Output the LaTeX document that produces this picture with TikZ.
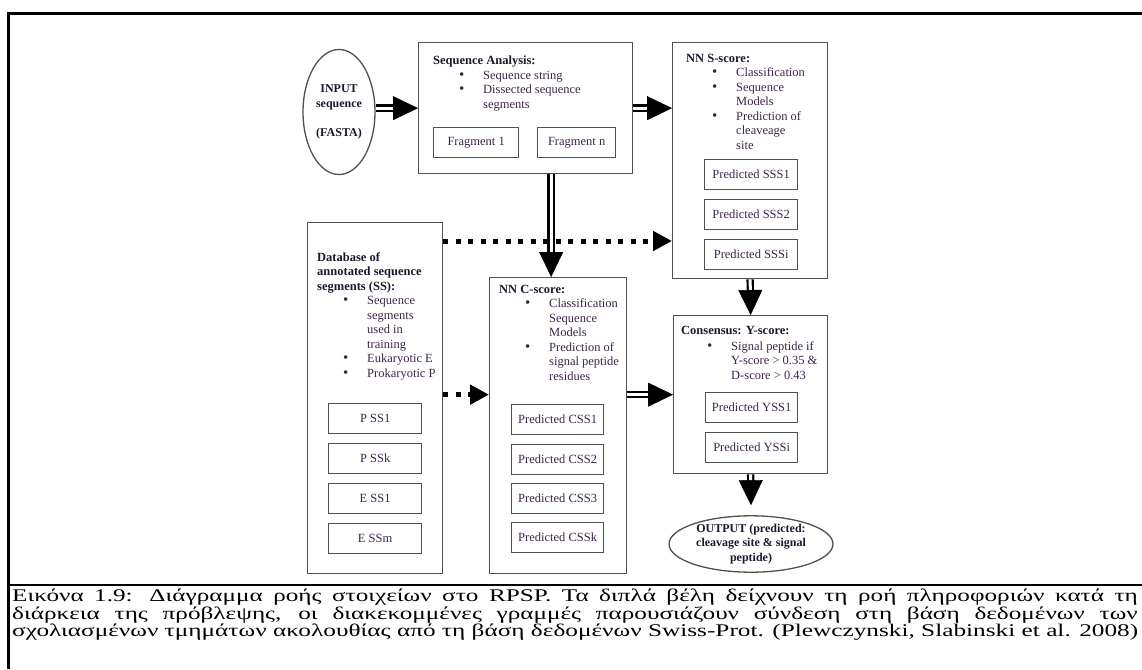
\documentclass[tikz,border=0pt]{standalone}
\usepackage{fontspec}
\setmainfont{Liberation Serif}
\usetikzlibrary{arrows.meta,shapes.geometric,calc}
\definecolor{boxgray}{RGB}{80,80,80}
\definecolor{titlecol}{RGB}{25,25,45}
\definecolor{itemcol}{RGB}{60,35,75}
\def\bul{\hspace*{26pt}\makebox[24pt][l]{\fontsize{15}{14.5}\selectfont\textbullet}}
\def\cont{\hspace*{50pt}}
\def\capline#1{\scalebox{1.2}[0.85]{\makebox[938pt][s]{\fontsize{21}{18}\selectfont #1}}}
\def\caplast#1{\resizebox{1126pt}{0.85\height}{\fontsize{21}{18}\selectfont #1}}
\def\dblarrow(#1)(#2){\draw[dblshaft] (#1) -- (#2); \draw[dblhead] (#1) -- (#2);}

\begin{document}
\begin{tikzpicture}[x=1pt, y=-1pt,
	box/.style={draw=boxgray, line width=1.3pt, anchor=north west, inner sep=0pt},
	inbox/.style={box, minimum height=30, font=\fontsize{12.5}{14.5}\selectfont, text=itemcol},
	lbl/.style={anchor=north west, align=left, inner sep=0pt, font=\fontsize{12.5}{14.5}\selectfont, text=itemcol},
	oval/.style={ellipse, draw=boxgray, line width=1.3pt, inner sep=0pt, align=center, font=\fontsize{12}{14.5}\selectfont\bfseries, text=titlecol},
	dblshaft/.style={draw=black, double=white, double distance=3pt, line width=2.2pt, shorten >=24pt},
	dblhead/.style={draw=white, line width=0.4pt, shorten <=3pt, -{Triangle[length=25pt,width=24pt,color=black]}},
	dotarr/.style={draw=black, line width=5pt, dash pattern=on 5pt off 7.5pt, -{Triangle[length=19pt,width=19pt]}},
	frame/.style={draw=black, line width=2.7pt}]
	%%%%% FRAME %%%%%
	\useasboundingbox (0,0) rectangle (1142,669);
	\draw[frame] (7.5,13.3) -- (1142,13.3);
	\draw[frame] (8.7,12) -- (8.7,669);
	\draw[frame] (7.5,585) -- (1142,585);
	
	%%%%% BOXES %%%%%
	\node[oval, minimum width=72, minimum height=125] (input) at (339,112) {INPUT\\sequence\\[14.5pt](FASTA)};
	
	\node[box, minimum width=214, minimum height=131] (seq) at (418,42) {};
	\node[lbl] (seqtxt) at (433,56) {\textbf{\color{titlecol}Sequence Analysis:}\\
		\bul Sequence string\\
		\bul Dissected sequence\\
		\cont segments};
	\node[inbox, minimum width=85] (frag1) at (433,127) {Fragment 1};
	\node[inbox, minimum width=78] (fragn) at (537,127) {Fragment n};
	
	\node[box, minimum width=155, minimum height=236] (nns) at (672,42) {};
	\node[lbl] (nnstxt) at (686,54) {\textbf{\color{titlecol}NN S-score:}\\
		\bul Classification\\
		\bul Sequence\\
		\cont Models\\
		\bul Prediction of\\
		\cont cleaveage\\
		\cont site};
	\foreach \lab/\yy in {SSS1/159, SSS2/199, SSSi/239}
		\node[inbox, minimum width=93] (pred\lab) at (704,\yy) {Predicted \lab};
	
	\node[box, minimum width=135, minimum height=351] (db) at (307,222) {};
	\node[lbl] (dbtxt) at (317,252) {\textbf{\color{titlecol}Database of}\\
		\textbf{\color{titlecol}annotated sequence}\\
		\textbf{\color{titlecol}segments (SS):}\\
		\bul Sequence\\
		\cont segments\\
		\cont used in\\
		\cont training\\
		\bul Eukaryotic E\\
		\bul Prokaryotic P};
	\foreach \nm/\lab/\yy in {pa/P SS1/403, pk/P SSk/443, ea/E SS1/483, em/E SSm/523}
		\node[inbox, minimum width=93] (\nm) at (328,\yy) {\lab};
	
	\node[box, minimum width=137, minimum height=296] (nnc) at (489,277) {};
	\node[lbl] (nnctxt) at (499,285) {\textbf{\color{titlecol}NN C-score:}\\
		\bul Classification\\
		\cont Sequence\\
		\cont Models\\
		\bul Prediction of\\
		\cont signal peptide\\
		\cont residues};
	\foreach \lab/\yy in {CSS1/404, CSS2/444, CSS3/483, CSSk/522}
		\node[inbox, minimum width=92] (pred\lab) at (511,\yy) {Predicted \lab};
	
	\node[box, minimum width=154, minimum height=158] (cons) at (673,315) {};
	\node[lbl] (constxt) at (681,326) {\textbf{\color{titlecol}Consensus: Y-score:}\\[1.5pt]
		\bul Signal peptide if\\
		\cont Y-score > 0.35 \&\\
		\cont D-score > 0.43};
	\foreach \lab/\yy in {YSS1/392, YSSi/432}
		\node[inbox, minimum width=92] (pred\lab) at (705,\yy) {Predicted \lab};
	
	\node[oval, minimum width=164, minimum height=56] (output) at (751,544) {OUTPUT (predicted:\\cleavage site \& signal\\peptide)};
	
	%%%%% CONNECTORS %%%%%
	\coordinate (dbtap) at ($(db.north east)+(0,19)$);
	\coordinate (cdown) at ($(nnc.north)+(-7,0)$);
	\coordinate (outtip) at ($(output.north)+(0,-10)$);
	
	\draw[dotarr] (dbtap) -- (dbtap -| nns.west);
	\draw[dotarr] (db.east |- cons.west) -- (nnc.west |- cons.west);
	
	\dblarrow(input.east |- seq.west)(seq.west)
	\dblarrow(seq.east)(seq.east -| nns.west)
	\dblarrow(seq.south -| cdown)(cdown)
	\dblarrow(nns.south)(cons.north)
	\dblarrow(nnc.east |- cons.west)(cons.west)
	\dblarrow(cons.south)(outtip)
	
	%%%%% CAPTION %%%%%
	\node[anchor=base west, inner sep=0pt] (capa) at (12,601) {\capline{Εικόνα 1.9: Διάγραμμα ροής στοιχείων στο RPSP. Τα διπλά βέλη δείχνουν τη ροή πληροφοριών κατά τη}};
	\node[anchor=base west, inner sep=0pt] (capb) at (12,619) {\capline{διάρκεια της πρόβλεψης, οι διακεκομμένες γραμμές παρουσιάζουν σύνδεση στη βάση δεδομένων των}};
	\node[anchor=base west, inner sep=0pt] (capc) at (12,636.5) {\caplast{σχολιασμένων τμημάτων ακολουθίας από τη βάση δεδομένων Swiss-Prot. (Plewczynski, Slabinski et al. 2008)}};
\end{tikzpicture}
\end{document}
